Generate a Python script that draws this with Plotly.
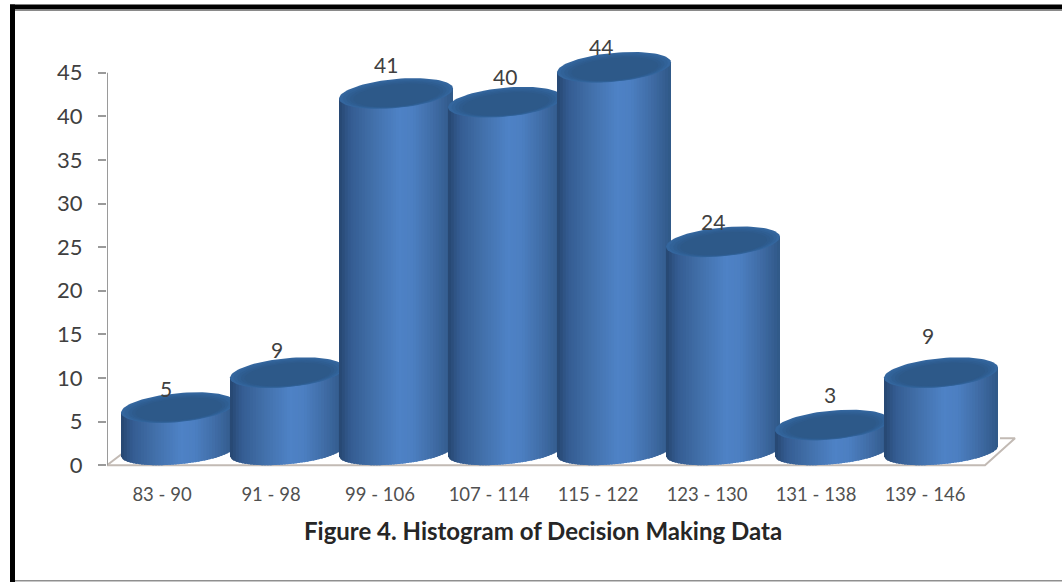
import numpy as np
import plotly.graph_objects as go

# Chart values
categories = ["83 - 90", "91 - 98", "99 - 106", "107 - 114",
              "115 - 122", "123 - 130", "131 - 138", "139 - 146"]
frequencies = [5, 9, 41, 40, 44, 24, 3, 9]
y_ticks = [0, 5, 10, 15, 20, 25, 30, 35, 40, 45]
chart_title = "Figure 4. Histogram of Decision Making Data"

# Label nudges in pixels, relative to the top of each column
label_dx = [4, 6, 6, 16, 3, 6, 14, 3]
label_dy = [33, 37, 43, 40, 35, 34, 45, 51]

# Page geometry in pixels
WIDTH, HEIGHT = 1062, 582
PX_PER_UNIT = 8.71
PX_PER_CAT = 109.0
ZERO_Y = 465.0
CAT0_X = 162.0
LEFT, RIGHT = 107.0, 1040.0
Y_MIN, Y_MAX = -1.0, 50.0

# Column shape, in axis units
SHIFT = 16 / PX_PER_CAT
HALF_W = 57 / PX_PER_CAT
DEPTH = 14 / PX_PER_UNIT
RY_BASE = 13 / PX_PER_UNIT
RY_LID = 14.5 / PX_PER_UNIT
TILT = 5 / PX_PER_UNIT
N_STRIPS = 40

# Horizontal shading across a column
shade_t = [-1.0, -0.8, -0.4, 0.05, 0.3, 0.7, 1.0]
shade_rgb = [(38, 70, 112), (52, 92, 145), (66, 112, 170), (78, 130, 198),
             (76, 127, 193), (62, 106, 162), (48, 88, 135)]

# Lid shading from the rim inwards
lid_rgb = [(52, 102, 158), (49, 98, 152), (47, 94, 146), (46, 91, 141), (45, 89, 137)]
lid_scale = [1.0, 0.94, 0.88, 0.82, 0.76]


def shade(t):
    r = [np.interp(t, shade_t, [c[k] for c in shade_rgb]) for k in range(3)]
    return f"rgb({r[0]:.0f},{r[1]:.0f},{r[2]:.0f})"


def ellipse(cx, cy, a, b, tilt):
    th = np.linspace(0, 2 * np.pi, 90)
    return cx + a * np.cos(th), cy + b * np.sin(th) + tilt * np.cos(th)


def polygon(xs, ys, colour):
    return go.Scatter(x=xs, y=ys, mode="lines", fill="toself", fillcolor=colour,
                      line=dict(width=0, color=colour), hoverinfo="skip",
                      showlegend=False)


def ax_x(px):
    return (px - CAT0_X) / PX_PER_CAT


def ax_y(py):
    return (ZERO_Y - py) / PX_PER_UNIT


fig = go.Figure()

# Floor outline
fig.add_trace(go.Scatter(
    x=[ax_x(p) for p in (107, 985, 1015, 1000)],
    y=[ax_y(p) for p in (465, 465, 438, 438)],
    mode="lines", line=dict(color="#c2bab4", width=2),
    hoverinfo="skip", showlegend=False))
fig.add_trace(go.Scatter(
    x=[ax_x(107), ax_x(124)], y=[ax_y(465), ax_y(452)],
    mode="lines", line=dict(color="#c2bab4", width=2),
    hoverinfo="skip", showlegend=False))

# Value axis line
fig.add_trace(go.Scatter(
    x=[ax_x(107), ax_x(107)], y=[0, y_ticks[-1]],
    mode="lines", line=dict(color="#9a9a9a", width=2),
    hoverinfo="skip", showlegend=False))

# Cylinders: shaded vertical strips for the wall, stacked ellipses for the lid
edges = np.linspace(-1, 1, N_STRIPS + 1)
for i, v in enumerate(frequencies):
    cx = i + SHIFT
    for lo, hi in zip(edges[:-1], edges[1:]):
        t = (lo + hi) / 2
        # each strip runs on under its neighbour so no seams show
        hi2 = min(1.0, hi + 0.03)
        ts = np.linspace(lo, hi2, 4)
        bottom = DEPTH - RY_BASE * np.sqrt(np.clip(1 - ts * ts, 0, 1)) + TILT * ts
        xs = cx + ts * HALF_W
        top = DEPTH + v + TILT * ts
        fig.add_trace(polygon(
            np.concatenate([xs, xs[::-1]]),
            np.concatenate([bottom, top[::-1]]),
            shade(t)))
    for k, rgb in zip(lid_scale, lid_rgb):
        shift_down = (1 - k) * 0.5 * RY_LID
        xs, ys = ellipse(cx + (1 - k) * 0.03, DEPTH + v - shift_down,
                         HALF_W * k, RY_LID * k, TILT * k)
        fig.add_trace(polygon(xs, ys, f"rgb({rgb[0]},{rgb[1]},{rgb[2]})"))

# Value labels
annotations = [
    dict(x=i, y=v, xref="x", yref="y", text=str(v), showarrow=False,
         xshift=label_dx[i], yshift=label_dy[i],
         font=dict(family="Lato", size=21, color="#404040"))
    for i, v in enumerate(frequencies)
]


def paper_x(px):
    return (px - LEFT) / (RIGHT - LEFT)


bottom_margin = HEIGHT - (ZERO_Y - Y_MIN * PX_PER_UNIT)
top_margin = ZERO_Y - Y_MAX * PX_PER_UNIT
plot_h = HEIGHT - bottom_margin - top_margin


def paper_y(py):
    return 1 - (py - top_margin) / plot_h


annotations.append(dict(
    x=paper_x(543), y=paper_y(530), xref="paper", yref="paper",
    xanchor="center", yanchor="middle",
    text=f"<b>{chart_title}</b>", showarrow=False,
    font=dict(family="Lato", size=24, color="#262626")))

# Picture frame around the chart
frame = [
    (10, 5, 1062, 10, "#000000"),
    (10, 10, 1062, 11.5, "#8a8a8a"),
    (10, 5, 15, 582, "#000000"),
    (15, 579.5, 1062, 581, "#8f8f8f"),
]
shapes = [
    dict(type="rect", xref="paper", yref="paper", layer="above",
         x0=paper_x(x0), x1=paper_x(x1), y0=paper_y(y1), y1=paper_y(y0),
         fillcolor=c, line=dict(width=0))
    for x0, y0, x1, y1, c in frame
]

fig.update_layout(
    width=WIDTH, height=HEIGHT,
    margin=dict(l=LEFT, r=WIDTH - RIGHT, t=top_margin, b=bottom_margin, pad=0, autoexpand=False),
    paper_bgcolor="white", plot_bgcolor="rgba(0,0,0,0)",
    showlegend=False,
    annotations=annotations, shapes=shapes,
    xaxis=dict(range=[ax_x(LEFT), ax_x(RIGHT)], tickmode="array",
               tickvals=list(range(len(categories))), ticktext=categories,
               showgrid=False, zeroline=False, showline=False, ticks="",
               ticklabelstandoff=7, automargin=False,
               tickfont=dict(family="Lato", size=18.5, color="#505050")),
    yaxis=dict(range=[Y_MIN, Y_MAX], tickmode="array", tickvals=y_ticks,
               showgrid=False, zeroline=False, showline=False,
               ticks="outside", ticklen=8, tickwidth=2, tickcolor="#9a9a9a",
               ticklabelstandoff=11, automargin=False,
               tickfont=dict(family="Lato", size=22, color="#404040")),
)

fig.write_html("out.html")
